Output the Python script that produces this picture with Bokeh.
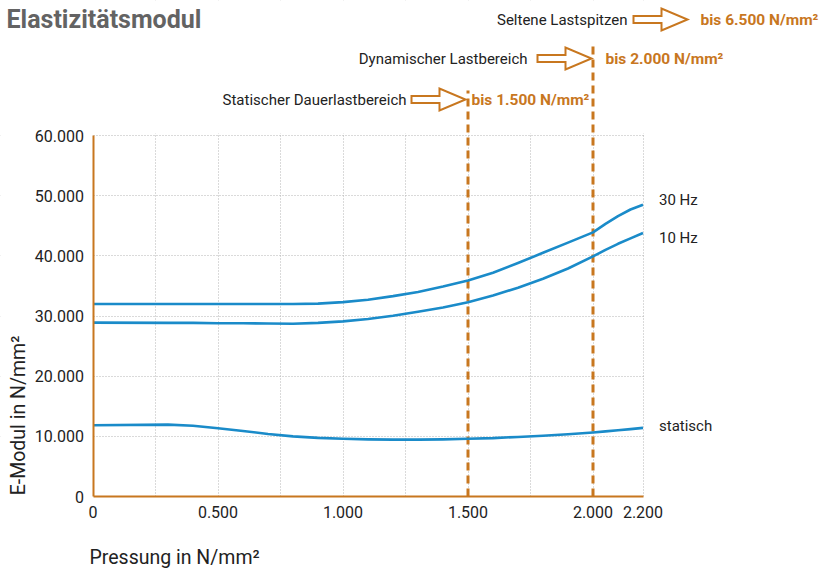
import math
from bokeh.plotting import figure
from bokeh.models import (Range1d, FixedTicker, BoxAnnotation, Label, ColumnDataSource)
from bokeh.core.properties import value
from bokeh.embed import file_html
from bokeh.resources import INLINE

# ---------------- data ----------------
pressure = [0.0, 0.3, 0.4, 0.5, 0.6, 0.7, 0.8, 0.9, 1.0, 1.1, 1.2, 1.3, 1.4,
            1.5, 1.6, 1.7, 1.8, 1.9, 2.0, 2.05, 2.1, 2.15, 2.2]
hz30 = [32000, 32000, 32000, 32000, 32000, 32000, 32000, 32050, 32300, 32700,
        33300, 34000, 34900, 35900, 37200, 38800, 40500, 42200, 43900, 45300, 46600,
        47700, 48500]
hz10 = [28900, 28850, 28850, 28800, 28800, 28750, 28700, 28850, 29100, 29500,
        30050, 30700, 31400, 32300, 33400, 34700, 36200, 37900, 39900, 41000, 42000,
        42900, 43800]
statisch = [11850, 11950, 11750, 11350, 10900, 10400, 10000, 9750, 9600, 9500,
            9450, 9450, 9500, 9600, 9700, 9900, 10100, 10350, 10650, 10820, 11000,
            11200, 11400]
series_names = ["30 Hz", "10 Hz", "statisch"]

x_ticks = [0, 0.5, 1.0, 1.5, 2.0, 2.2]
x_tick_labels = ["0", "0.500", "1.000", "1.500", "2.000", "2.200"]
x_grid = [0.25, 0.5, 0.75, 1.0, 1.25, 1.5, 1.75, 2.0, 2.2]
y_ticks = [0, 10000, 20000, 30000, 40000, 50000, 60000]
y_tick_labels = ["0", "10.000", "20.000", "30.000", "40.000", "50.000", "60.000"]
x_max = 2.2
y_max = 60000

limits = [1.5, 2.0]
limit_labels = ["bis 1.500 N/mm²", "bis 2.000 N/mm²", "bis 6.500 N/mm²"]
range_labels = ["Statischer Dauerlastbereich", "Dynamischer Lastbereich", "Seltene Lastspitzen"]

# ---------------- layout ----------------
W, H = 824, 568
PX0, PY0 = 92.5, 496.0   # pixel of (0, 0)
PXX = 250.0              # px per x unit
PXY = 361.0 / 60000.0    # px per y unit

def dx(px):
    return (px - PX0) / PXX

def dy(py):
    return (PY0 - py) / PXY

ORANGE = "#c8771f"
BLUE = "#1a8bc9"
TXT = "#222222"
FONT = "Roboto"

p = figure(width=W, height=H, output_backend="svg", toolbar_location=None,
           x_range=Range1d(dx(0), dx(W)), y_range=Range1d(dy(H), dy(0)),
           min_border=0)
p.outline_line_color = None
p.background_fill_color = "white"
p.border_fill_color = "white"

# axes, drawn at the data origin
p.xaxis.fixed_location = 0
p.yaxis.fixed_location = 0
for ax in (p.xaxis, p.yaxis):
    ax.axis_line_color = ORANGE
    ax.axis_line_width = 2
    ax.major_tick_line_color = None
    ax.minor_tick_line_color = None
    ax.major_label_text_font = FONT
    ax.major_label_text_font_size = "16px"
    ax.major_label_text_color = TXT
    ax.major_label_standoff = 3
p.xaxis.bounds = (0, x_max)
p.yaxis.bounds = (0, y_max)
p.xaxis.ticker = FixedTicker(ticks=x_ticks)
p.yaxis.ticker = FixedTicker(ticks=y_ticks)
p.xaxis.major_label_overrides = dict(zip(x_ticks, x_tick_labels))
p.yaxis.major_label_overrides = dict(zip(y_ticks, y_tick_labels))

# grid
p.xgrid.ticker = FixedTicker(ticks=x_grid)
p.ygrid.ticker = FixedTicker(ticks=y_ticks[1:])
for g in (p.xgrid, p.ygrid):
    g.grid_line_color = "#b4b4b4"
    g.grid_line_dash = "1 2"
    g.grid_line_width = 1

# white masks outside the plot area (hide grid there)
mask = dict(fill_color="white", fill_alpha=1, line_color=None, level="underlay")
p.add_layout(BoxAnnotation(bottom=y_max + 2 / PXY, **mask))
p.add_layout(BoxAnnotation(left=x_max + 2 / PXX, **mask))
p.add_layout(BoxAnnotation(right=0, **mask))
p.add_layout(BoxAnnotation(top=0, **mask))

# limit lines
p.segment(x0=limits, x1=limits, y0=[0, 0], y1=[dy(90), dy(46)],
          line_color=ORANGE, line_width=3, line_dash="8 5")

# series
for ys in (hz30, hz10, statisch):
    p.line(pressure, ys, line_color=BLUE, line_width=2.6, line_join="round")

# series labels
lab_src = ColumnDataSource(dict(x=[pressure[-1]] * 3, y=[hz30[-1], hz10[-1], statisch[-1]],
                                t=series_names, off=[-5, 5, -2]))
p.text(x="x", y="y", text="t", source=lab_src, x_offset=16, y_offset="off",
       text_font=value(FONT), text_font_size="15px", text_color=TXT,
       text_baseline="middle", text_align="left")

# axis titles
p.add_layout(Label(x=dx(18), y=dy(415), text="E-Modul in N/mm²", angle=math.pi / 2,
                   text_align="center", text_baseline="middle", text_font=FONT,
                   text_font_size="19.5px", text_color=TXT))
p.add_layout(Label(x=dx(89), y=dy(557), text="Pressung in N/mm²",
                   text_align="left", text_baseline="alphabetic", text_font=FONT,
                   text_font_size="19.5px", text_color=TXT))

# title
p.add_layout(Label(x=dx(6), y=dy(19), text="Elastizitätsmodul", text_align="left",
                   text_baseline="middle", text_font=FONT, text_font_style="bold",
                   text_font_size="25px", text_color="#636363"))

# range annotations
rows = [(406, 99, 411, 471), (527, 58, 537, 605), (627, 19, 633, 700)]
for (tx, cy, ax0, bx), rl, ll in zip(rows, range_labels, limit_labels):
    p.add_layout(Label(x=dx(tx), y=dy(cy), text=rl, text_align="right", text_baseline="middle",
                       text_font=FONT, text_font_size="15px", text_color=TXT))
    p.add_layout(Label(x=dx(bx), y=dy(cy), text=ll, text_align="left", text_baseline="middle",
                       text_font=FONT, text_font_style="bold", text_font_size="15.5px",
                       text_color=ORANGE))
    shape = [(0, -3.5), (28, -3.5), (28, -11), (54, 0), (28, 11), (28, 3.5), (0, 3.5)]
    p.patch([dx(ax0 + sx) for sx, sy in shape], [dy(cy + sy) for sx, sy in shape],
            fill_color="white", line_color=ORANGE, line_width=2, line_join="miter")

open("out.html", "w").write(file_html(p, INLINE))
